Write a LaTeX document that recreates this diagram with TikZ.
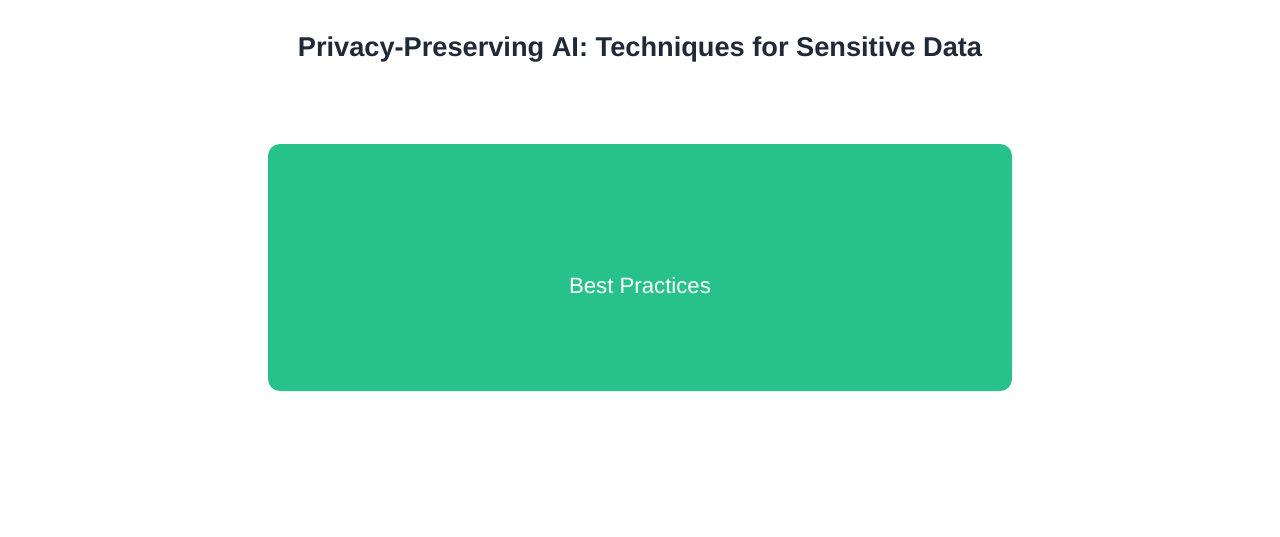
\documentclass[tikz,border=0pt]{standalone}
\usepackage{fontspec}
\setmainfont{Liberation Sans}
\definecolor{titlecol}{HTML}{1F2937}
\definecolor{boxgreen}{HTML}{27C18B}
\tikzset{
  titletext/.style={font=\fontsize{27.2}{32}\selectfont\bfseries, text=titlecol, inner sep=0pt},
  greenbox/.style={fill=boxgreen, draw=none, rounded corners=12pt, minimum width=744pt, minimum height=247pt, inner sep=0pt},
  boxtext/.style={font=\fontsize{22.2}{26}\selectfont, text=white, inner sep=0pt}
}
\begin{document}
\begin{tikzpicture}[x=1pt,y=-1pt]
\useasboundingbox (0,0) rectangle (1280,536);
\node[titletext] (title) at (640,49.5) {Privacy-Preserving AI: Techniques for Sensitive Data};
\node[greenbox] (box) at (640,267.5) {};
\node[boxtext] (label) at (640,286) {Best Practices};
\end{tikzpicture}
\end{document}
